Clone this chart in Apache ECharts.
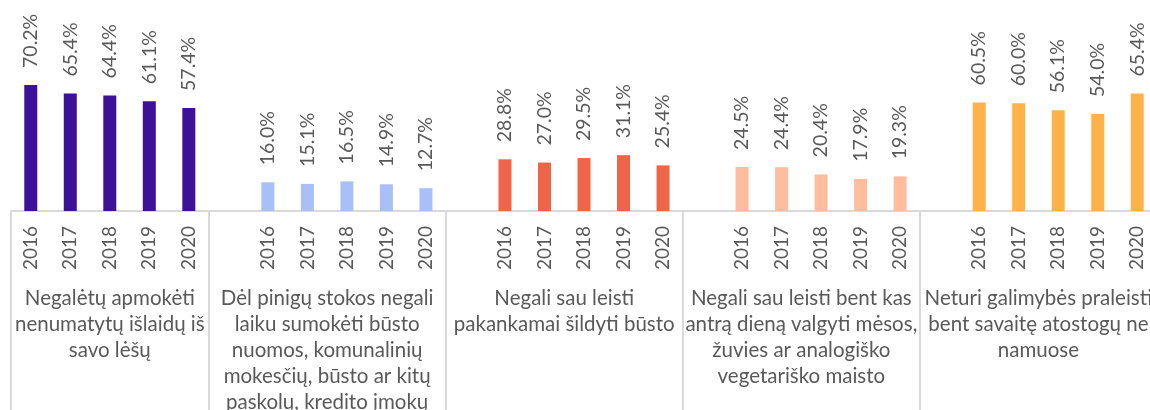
<!DOCTYPE html>
<html>
<head>
<meta charset="utf-8">
<script src="https://cdn.jsdelivr.net/npm/echarts@6/dist/echarts.min.js"></script>
<style>
html,body{margin:0;padding:0;overflow:hidden;background:#fff;width:1150px;height:410px;}
#c{width:1160px;height:460px;}
</style>
</head>
<body>
<div id="c"></div>
<script>
const years = ['2016', '2017', '2018', '2019', '2020'];
const groupLabels = [
  'Negalėtų apmokėti\nnenumatytų išlaidų iš\nsavo lėšų',
  'Dėl pinigų stokos negali\nlaiku sumokėti būsto\nnuomos, komunalinių\nmokesčių, būsto ar kitų\npaskolų, kredito įmokų',
  'Negali sau leisti\npakankamai šildyti būsto',
  'Negali sau leisti bent kas\nantrą dieną valgyti mėsos,\nžuvies ar analogiško\nvegetariško maisto',
  'Neturi galimybės praleisti\nbent savaitę atostogų ne\nnamuose'
];
const unexpectedExpenses = [70.2, 65.4, 64.4, 61.1, 57.4];
const arrears = [16.0, 15.1, 16.5, 14.9, 12.7];
const heating = [28.8, 27.0, 29.5, 31.1, 25.4];
const meal = [24.5, 24.4, 20.4, 17.9, 19.3];
const holiday = [60.5, 60.0, 56.1, 54.0, 65.4];
const groupColors = ['#3d1199', '#a9bff7', '#f0644a', '#ffbd9e', '#ffb24a'];

const groups = [unexpectedExpenses, arrears, heating, meal, holiday];
const cats = [];
const data = [];
const groupStart = [];
const groupCenter = [];
groups.forEach((g, gi) => {
  const start = cats.length;
  if (gi > 0) { cats.push(''); data.push('-'); }
  groupStart.push(start);
  g.forEach((v, i) => {
    cats.push(years[i]);
    data.push({ value: v, itemStyle: { color: groupColors[gi] } });
  });
  groupCenter.push((start + cats.length) / 2);
});
const nCats = cats.length;

const textColor = '#595959';
const font = 'Lato';

const chart = echarts.init(document.getElementById('c'));
chart.setOption({
  animation: false,
  grid: { left: 11, right: 1, top: 31.5, bottom: 249 },
  xAxis: [
    {
      type: 'category',
      data: cats,
      axisLine: { lineStyle: { color: '#d9d9d9', width: 2 } },
      axisTick: {
        show: true,
        length: 260,
        interval: (idx) => groupStart.includes(idx),
        lineStyle: { color: '#d9d9d9', width: 2 }
      },
      axisLabel: {
        interval: 0,
        rotate: 90,
        margin: 15,
        color: textColor,
        fontFamily: font,
        fontSize: 19
      }
    },
    {
      type: 'value',
      position: 'bottom',
      min: 0,
      max: nCats,
      interval: 0.5,
      axisLine: { show: false },
      axisTick: { show: false },
      splitLine: { show: false },
      axisLabel: {
        margin: 74,
        color: textColor,
        fontFamily: font,
        fontSize: 20.5,
        lineHeight: 26,
        align: 'center',
        verticalAlign: 'top',
        formatter: (v) => {
          const k = groupCenter.findIndex(c => Math.abs(c - v) < 1e-6);
          return k >= 0 ? groupLabels[k] : '';
        }
      }
    }
  ],
  yAxis: { type: 'value', min: 0, max: 100, show: false, splitLine: { show: false } },
  series: [{
    type: 'bar',
    xAxisIndex: 0,
    data: data,
    barWidth: 13,
    label: {
      show: true,
      position: 'top',
      rotate: 90,
      align: 'left',
      verticalAlign: 'middle',
      distance: 17,
      color: textColor,
      fontFamily: font,
      fontSize: 19.5,
      formatter: (p) => p.value.toFixed(1) + '%'
    }
  }]
});
</script>
</body>
</html>
